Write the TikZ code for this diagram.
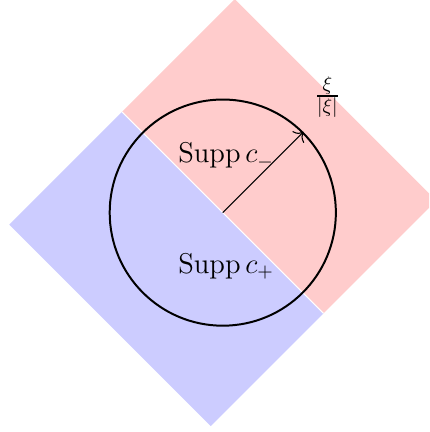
\documentclass[tikz,border=0pt]{standalone}
\usepackage{amsmath}
\usepackage{tikz}
\usetikzlibrary{arrows.meta}

\begin{document}
\begin{tikzpicture}[
  half/.style={draw=white, line width=0.5pt},
  arrow/.style={-{To[scale=1.4]}, line width=0.55pt},
  supp/.style={font=\Large}
]
  \clip (-3.94,-3.88) rectangle (3.65,3.76);

  % the two half planes, turned by 45 degrees
  \begin{scope}[rotate=45]
    \fill[red!20]  (0,-2.52) rectangle (2.82,2.52);
    \fill[blue!20] (-2.82,-2.52) rectangle (0,2.52);
    \draw[half] (0,-2.52) -- (0,2.52);
  \end{scope}

  \coordinate (o) at (0,0);
  \node[circle, draw, line width=1pt, minimum size=4cm, inner sep=0pt] (disc) at (o) {};

  \node[supp] (minus) at (0.06,1.0)  {$\operatorname{Supp} c_-$};
  \node[supp] (plus)  at (0.06,-0.95) {$\operatorname{Supp} c_+$};
  \node[supp] (xi) at (1.85,2.04) {$\frac{\xi}{|\xi|}$};

  \draw[arrow] (o) -- (disc.45);
\end{tikzpicture}
\end{document}
